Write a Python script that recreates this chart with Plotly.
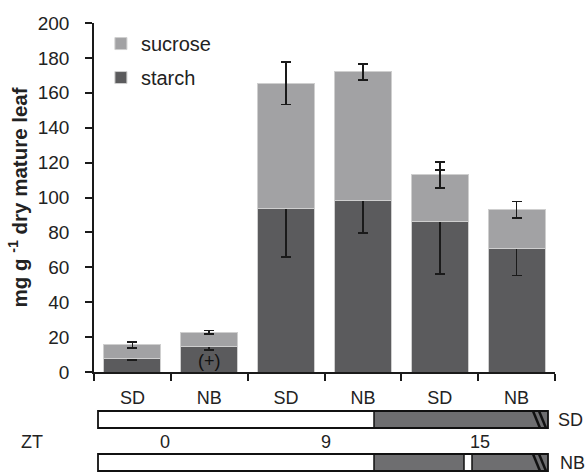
import plotly.graph_objects as go

# ---- data ----
categories = ["SD", "NB", "SD", "NB", "SD", "NB"]
starch = [8.0, 14.5, 93.5, 98.0, 86.0, 71.0]
sucrose = [7.5, 8.3, 72.0, 74.0, 27.0, 22.0]
starch_err = [1.0, 2.0, 27.5, 18.5, 29.7, 15.8]
sucrose_err = [1.8, 1.0, 12.3, 4.5, 7.5, 4.8]
y_ticks = [0, 20, 40, 60, 80, 100, 120, 140, 160, 180, 200]
zt_labels = ["0", "9", "15"]

xpos = list(range(len(categories)))

# plot-area pixel geometry (for the schematic below the axis)
L, R, T, B = 94, 555, 23, 372
W, H = 588, 473


def fx(px):
    return (px - L) / (R - L)


def fy(py):
    return (B - py) / (B - T)


FONT = "Liberation Sans, Arial, sans-serif"
TXT = "#222222"

fig = go.Figure()
fig.add_trace(go.Bar(
    x=xpos, y=starch, name="starch", legendgroup="b", legendrank=2,
    marker=dict(color="#5b5b5d", line=dict(color="#cfcfcf", width=1)),
    width=0.74,
    error_y=dict(type="data", array=starch_err, color="#1a1a1a", thickness=1.6, width=5),
))
fig.add_trace(go.Bar(
    x=xpos, y=sucrose, name="sucrose", legendgroup="a", legendrank=1,
    marker=dict(color="#a2a2a4", line=dict(color="#cfcfcf", width=1)),
    width=0.74,
    error_y=dict(type="data", array=sucrose_err, color="#1a1a1a", thickness=1.6, width=5),
))

shapes = []
# schematic bars
sd_top, sd_bot = 411, 428
nb_top, nb_bot = 454, 471
x0, xd, x1 = 98, 374, 548
dark = "#6e6e70"
for (t, b, gaps) in [(sd_top, sd_bot, []), (nb_top, nb_bot, [(464, 472)])]:
    shapes.append(dict(type="rect", xref="paper", yref="paper",
                       x0=fx(x0), x1=fx(xd), y0=fy(b), y1=fy(t),
                       fillcolor="white", line=dict(width=0)))
    shapes.append(dict(type="rect", xref="paper", yref="paper",
                       x0=fx(xd), x1=fx(x1), y0=fy(b), y1=fy(t),
                       fillcolor=dark, line=dict(width=0)))
    for g0, g1 in gaps:
        shapes.append(dict(type="rect", xref="paper", yref="paper",
                           x0=fx(g0), x1=fx(g1), y0=fy(b), y1=fy(t),
                           fillcolor="white", line=dict(color="#111111", width=1.5)))
    # hatched end
    for s in [533, 539]:
        shapes.append(dict(type="line", xref="paper", yref="paper",
                           x0=fx(s), x1=fx(s + 7), y0=fy(t), y1=fy(b),
                           line=dict(color="#111111", width=2.5)))
    shapes.append(dict(type="rect", xref="paper", yref="paper",
                       x0=fx(x0), x1=fx(x1), y0=fy(b), y1=fy(t),
                       fillcolor="rgba(0,0,0,0)", line=dict(color="#111111", width=1.8)))
    shapes.append(dict(type="line", xref="paper", yref="paper",
                       x0=fx(xd), x1=fx(xd), y0=fy(b), y1=fy(t),
                       line=dict(color="#111111", width=1.5)))

annotations = [
    dict(x=1, y=6.5, xref="x", yref="y", text="(+)", showarrow=False,
         font=dict(size=18, color="#111111", family=FONT)),
    dict(x=fx(556), y=fy(420), xref="paper", yref="paper", text="SD", showarrow=False,
         xanchor="left", yanchor="middle", font=dict(size=18, color=TXT, family=FONT)),
    dict(x=fx(558), y=fy(463), xref="paper", yref="paper", text="NB", showarrow=False,
         xanchor="left", yanchor="middle", font=dict(size=18, color=TXT, family=FONT)),
    dict(x=fx(32), y=fy(442), xref="paper", yref="paper", text="ZT", showarrow=False,
         xanchor="center", yanchor="middle", font=dict(size=18, color=TXT, family=FONT)),
]
for lab, px in zip(zt_labels, [165, 326, 480]):
    annotations.append(dict(x=fx(px), y=fy(442), xref="paper", yref="paper", text=lab,
                            showarrow=False, xanchor="center", yanchor="middle",
                            font=dict(size=18, color=TXT, family=FONT)))

fig.update_layout(
    width=W, height=H,
    margin=dict(l=L, r=W - R, t=T, b=H - B),
    paper_bgcolor="white", plot_bgcolor="white",
    barmode="stack", bargap=0.26,
    font=dict(family=FONT, size=18, color=TXT),
    showlegend=True,
    legend=dict(x=0.015, y=0.997, xanchor="left", yanchor="top",
                traceorder="grouped", tracegroupgap=5,
                font=dict(size=20, color=TXT, family=FONT),
                bgcolor="rgba(0,0,0,0)", itemwidth=30),
    xaxis=dict(
        range=[-0.5, 5.5], tickmode="array", tickvals=xpos, ticktext=categories,
        ticks="", showgrid=False, zeroline=False,
        showline=True, linecolor="#1a1a1a", linewidth=1.5,
        tickfont=dict(size=18, color=TXT, family=FONT), ticklabelstandoff=9,
        minor=dict(tickmode="linear", tick0=-0.5, dtick=1, ticks="outside",
                   ticklen=7, tickwidth=1.5, tickcolor="#1a1a1a", showgrid=False),
    ),
    yaxis=dict(
        range=[0, 200], tickmode="array", tickvals=y_ticks,
        ticks="outside", ticklen=7, tickwidth=1.5, tickcolor="#1a1a1a",
        showgrid=False, zeroline=False,
        showline=True, linecolor="#1a1a1a", linewidth=1.5,
        tickfont=dict(size=19, color=TXT, family=FONT), ticklabelstandoff=12,
        title=dict(text="<b>mg g <sup>-1</sup> dry mature leaf</b>",
                   font=dict(size=20.5, color=TXT, family=FONT), standoff=5),
    ),
    shapes=shapes,
    annotations=annotations,
)

fig.write_html("out.html", config={"displayModeBar": False},
               post_script="document.body.style.margin='0';")
